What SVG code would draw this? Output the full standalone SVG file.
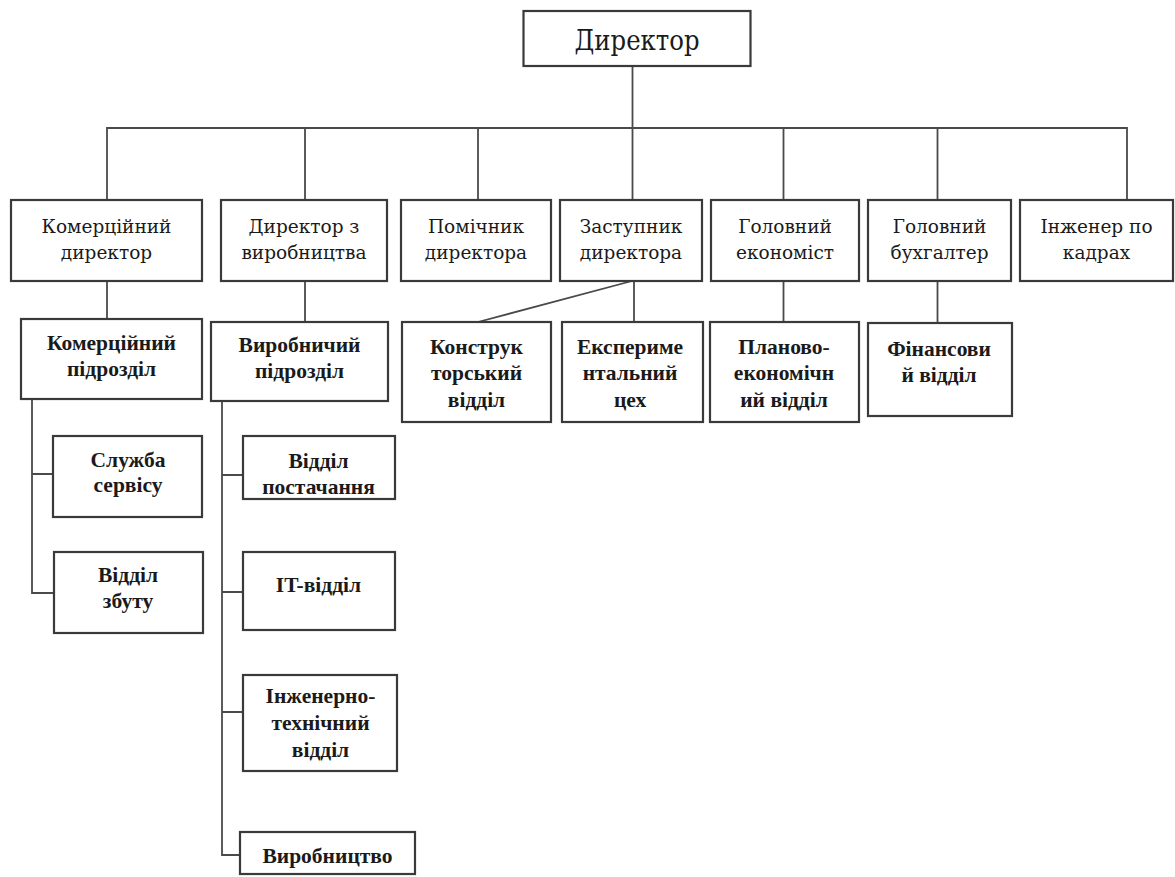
<svg xmlns="http://www.w3.org/2000/svg" width="1175" height="877" viewBox="0 0 1175 877">
<style>
.box{fill:#fff;stroke:#3a3a3a;stroke-width:2.2}
.ln{fill:none;stroke:#4a4a4a;stroke-width:1.8}
text{fill:#1a1a1a;text-anchor:middle}
.t2{font-family:"DejaVu Serif",serif;font-size:18.5px}
.t3{font-family:"Liberation Serif","DejaVu Serif",serif;font-size:21.5px;font-weight:bold}
.t1{font-family:"DejaVu Serif",serif;font-size:28px}
</style>
<rect width="1175" height="877" fill="#fff"/>
<g id="connectors">
<path class="ln" d="M632.5 66V200"/>
<path class="ln" d="M107 200V128H1127V200"/>
<path class="ln" d="M305 128V200M478 128V200M783.5 128V200M937.5 128V200"/>
<path class="ln" d="M107 281V319M305 281V322M632 281L478 322M634 281V322M783.5 281V322M937.5 281V323"/>
<path class="ln" d="M32 399V593H54M32 474H53"/>
<path class="ln" d="M222 401V855H240M222 475H243M222 592H243M222 712H243"/>
</g>
<g id="director"><rect class="box" x="523.5" y="11" width="227" height="55"/><text class="t1" x="637" y="50" textLength="125" lengthAdjust="spacingAndGlyphs">Директор</text></g>
<g id="komdir"><rect class="box" x="11" y="200" width="191" height="81"/><text class="t2" x="106.5" y="233">Комерційний</text><text class="t2" x="106.5" y="259">директор</text></g>
<g id="dirvyr"><rect class="box" x="221" y="200" width="166" height="81"/><text class="t2" x="304" y="233">Директор з</text><text class="t2" x="304" y="259">виробництва</text></g>
<g id="pomich"><rect class="box" x="401" y="200" width="150" height="81"/><text class="t2" x="476" y="233">Помічник</text><text class="t2" x="476" y="259">директора</text></g>
<g id="zast"><rect class="box" x="560" y="200" width="142" height="81"/><text class="t2" x="631" y="233">Заступник</text><text class="t2" x="631" y="259">директора</text></g>
<g id="golek"><rect class="box" x="711" y="200" width="148" height="81"/><text class="t2" x="785" y="233">Головний</text><text class="t2" x="785" y="259">економіст</text></g>
<g id="golbuh"><rect class="box" x="868" y="200" width="143" height="81"/><text class="t2" x="939.5" y="233">Головний</text><text class="t2" x="939.5" y="259">бухгалтер</text></g>
<g id="inzh"><rect class="box" x="1020" y="200" width="153" height="81"/><text class="t2" x="1096.5" y="233">Інженер по</text><text class="t2" x="1096.5" y="259">кадрах</text></g>
<g id="kompidr"><rect class="box" x="21" y="319" width="181" height="80"/><text class="t3" x="111.5" y="350">Комерційний</text><text class="t3" x="111.5" y="376">підрозділ</text></g>
<g id="vyrpidr"><rect class="box" x="211" y="322" width="177" height="79"/><text class="t3" x="299.5" y="352">Виробничий</text><text class="t3" x="299.5" y="378">підрозділ</text></g>
<g id="konstr"><rect class="box" x="402" y="322" width="149" height="100"/><text class="t3" x="476.5" y="354">Конструк</text><text class="t3" x="476.5" y="380">торський</text><text class="t3" x="476.5" y="407">відділ</text></g>
<g id="eksper"><rect class="box" x="562" y="322" width="141" height="100"/><text class="t3" x="630" y="354">Експериме</text><text class="t3" x="630" y="380">нтальний</text><text class="t3" x="630" y="407">цех</text></g>
<g id="planek"><rect class="box" x="710" y="322" width="149" height="100"/><text class="t3" x="784" y="354">Планово-</text><text class="t3" x="784" y="380">економічн</text><text class="t3" x="784" y="407">ий відділ</text></g>
<g id="finans"><rect class="box" x="868" y="323" width="144" height="93"/><text class="t3" x="939" y="356">Фінансови</text><text class="t3" x="939" y="382">й відділ</text></g>
<g id="servis"><rect class="box" x="53" y="436" width="149" height="81"/><text class="t3" x="128" y="467">Служба</text><text class="t3" x="128" y="492">сервісу</text></g>
<g id="zbut"><rect class="box" x="54" y="552" width="149" height="81"/><text class="t3" x="128" y="582">Відділ</text><text class="t3" x="128" y="608">збуту</text></g>
<g id="postach"><rect class="box" x="243" y="436" width="152" height="63"/><text class="t3" x="318.5" y="468">Відділ</text><text class="t3" x="318.5" y="494">постачання</text></g>
<g id="it"><rect class="box" x="243" y="552" width="152" height="78"/><text class="t3" x="318.5" y="592">IT-відділ</text></g>
<g id="inzhtech"><rect class="box" x="243" y="675" width="154" height="96"/><text class="t3" x="320.5" y="703">Інженерно-</text><text class="t3" x="320.5" y="730">технічний</text><text class="t3" x="320.5" y="757">відділ</text></g>
<g id="vyrobn"><rect class="box" x="240" y="832" width="175" height="42"/><text class="t3" x="327.5" y="863">Виробництво</text></g>
</svg>
